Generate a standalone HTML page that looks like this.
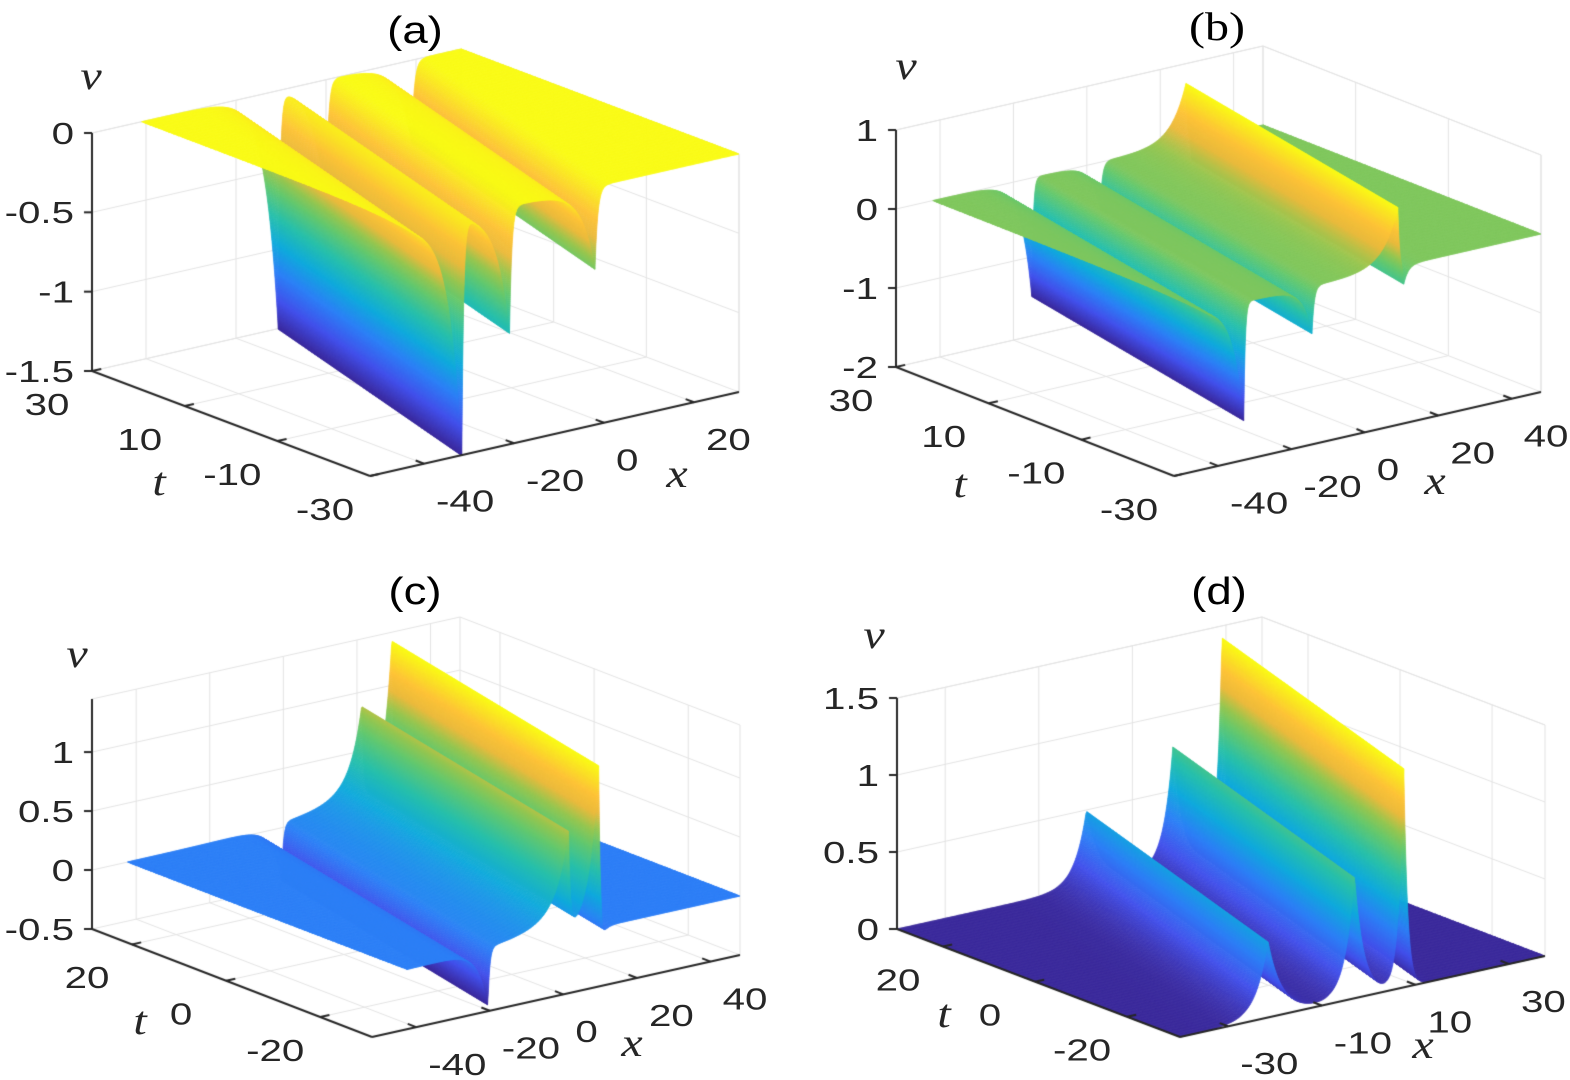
<!DOCTYPE html>
<html>
<head>
<meta charset="utf-8">
<style>
html,body{margin:0;padding:0;background:#fff;}
#root{position:relative;width:1570px;height:1080px;overflow:hidden;background:#fff;}
#cv{position:absolute;left:0;top:0;}
#ov{position:absolute;left:0;top:0;}
.tk{font-family:"Liberation Sans",Arial,sans-serif;font-size:31px;fill:#262626;}
.ttl{font-family:"Liberation Sans",Arial,sans-serif;font-size:38px;fill:#000;}
.ttls{font-family:"Liberation Serif","Times New Roman",serif;font-size:40px;fill:#000;}
.al{font-family:"Liberation Serif","Times New Roman",serif;font-style:italic;font-size:40px;fill:#262626;}
</style>
</head>
<body>
<div id="root">
<canvas id="cv" width="1570" height="1080"></canvas>
<svg id="ov" width="1570" height="1080">
  <g transform="translate(415,30) scale(1.2,1)"><text class="ttl" text-anchor="middle" dominant-baseline="central">(a)</text></g>
  <g transform="translate(1217,27) scale(1.2,1)"><text class="ttls" text-anchor="middle" dominant-baseline="central">(b)</text></g>
  <g transform="translate(415,591) scale(1.2,1)"><text class="ttl" text-anchor="middle" dominant-baseline="central">(c)</text></g>
  <g transform="translate(1219,591) scale(1.2,1)"><text class="ttl" text-anchor="middle" dominant-baseline="central">(d)</text></g>

  <g transform="translate(91,76) scale(1.2,1)"><text class="al" text-anchor="middle" dominant-baseline="central">v</text></g>
  <g transform="translate(159,482) scale(1.2,1)"><text class="al" text-anchor="middle" dominant-baseline="central">t</text></g>
  <g transform="translate(677,474) scale(1.2,1)"><text class="al" text-anchor="middle" dominant-baseline="central">x</text></g>

  <g transform="translate(906,66) scale(1.2,1)"><text class="al" text-anchor="middle" dominant-baseline="central">v</text></g>
  <g transform="translate(960,484) scale(1.2,1)"><text class="al" text-anchor="middle" dominant-baseline="central">t</text></g>
  <g transform="translate(1435,481) scale(1.2,1)"><text class="al" text-anchor="middle" dominant-baseline="central">x</text></g>

  <g transform="translate(77,654) scale(1.2,1)"><text class="al" text-anchor="middle" dominant-baseline="central">v</text></g>
  <g transform="translate(140,1021) scale(1.2,1)"><text class="al" text-anchor="middle" dominant-baseline="central">t</text></g>
  <g transform="translate(632,1043) scale(1.2,1)"><text class="al" text-anchor="middle" dominant-baseline="central">x</text></g>

  <g transform="translate(874,635) scale(1.2,1)"><text class="al" text-anchor="middle" dominant-baseline="central">v</text></g>
  <g transform="translate(944,1014) scale(1.2,1)"><text class="al" text-anchor="middle" dominant-baseline="central">t</text></g>
  <g transform="translate(1423,1045) scale(1.2,1)"><text class="al" text-anchor="middle" dominant-baseline="central">x</text></g>
  <g id="ticklabels"></g>
</svg>
</div>
<script>
// ---------- data: soliton parameters per panel (profile at t = 0) ----------
const aCenters = [-21.1, -10.5, 8.5];
const aAmps = [-1.48, -0.8, -0.52];
const aLeftW = [3, 3, 3];
const aRightW = [0.4, 0.5, 0.6];
const aSpeed = 0.35;

const bCenters = [-24, -5.4, 18, 19.6];
const bAmps = [-1.5, -0.6, 0.75, -0.25];
const bLeftW = [3, 2.5, 4, 0.3];
const bRightW = [0.4, 0.6, 0.4, 1.2];
const bSpeed = 0.3;

const cCenters = [-10.1, 11.8, 11.8, 20, 21];
const cAmps = [-0.5, 0.25, 0.6, 1.44, -0.1];
const cLeftW = [2.7, 12, 3, 2.5, 0.3];
const cRightW = [0.5, 0.5, 0.5, 0.4, 1];
const cSpeed = 0.336;

const dCenters = [-10.4, 8.1, 18.6];
const dAmps = [0.5, 0.8, 1.5];
const dLeftW = [2.5, 2, 1];
const dRightW = [3, 2, 0.8];
const dSpeed = 0.353;

// ---------- ticks ----------
const aXTicks = [-40, -20, 0, 20];
const aXTickLabels = ['-40', '-20', '0', '20'];
const aTTicks = [30, 10, -10, -30];
const aTTickLabels = ['30', '10', '-10', '-30'];
const aZTicks = [0, -0.5, -1, -1.5];
const aZTickLabels = ['0', '-0.5', '-1', '-1.5'];

const bXTicks = [-40, -20, 0, 20, 40];
const bXTickLabels = ['-40', '-20', '0', '20', '40'];
const bTTicks = [30, 10, -10, -30];
const bTTickLabels = ['30', '10', '-10', '-30'];
const bZTicks = [1, 0, -1, -2];
const bZTickLabels = ['1', '0', '-1', '-2'];

const cXTicks = [-40, -20, 0, 20, 40];
const cXTickLabels = ['-40', '-20', '0', '20', '40'];
const cTTicks = [20, 0, -20];
const cTTickLabels = ['20', '0', '-20'];
const cZTicks = [1, 0.5, 0, -0.5];
const cZTickLabels = ['1', '0.5', '0', '-0.5'];

const dXTicks = [-30, -10, 10, 30];
const dXTickLabels = ['-30', '-10', '10', '30'];
const dTTicks = [20, 0, -20];
const dTTickLabels = ['20', '0', '-20'];
const dZTicks = [1.5, 1, 0.5, 0];
const dZTickLabels = ['1.5', '1', '0.5', '0'];

// ---------- layout (pixel geometry of each 3-D box) ----------
const panels = [
 {key:'a', L:[92,371], F:[370,476], R:[739,392], zTopY:133, xmin:-52, xmax:30, tmin:-30, tmax:30, zmin:-1.5, zmax:0, sx0:-41, sx1:30,
  centers:aCenters, amps:aAmps, lw:aLeftW, rw:aRightW, speed:aSpeed,
  xT:aXTicks, xL:aXTickLabels, tT:aTTicks, tL:aTTickLabels, zT:aZTicks, zL:aZTickLabels},
 {key:'b', L:[896,367], F:[1174,476], R:[1541,392], zTopY:130, xmin:-52, xmax:48, tmin:-30, tmax:30, zmin:-2, zmax:1, sx0:-42, sx1:48,
  centers:bCenters, amps:bAmps, lw:bLeftW, rw:bRightW, speed:bSpeed,
  xT:bXTicks, xL:bXTickLabels, tT:bTTicks, tL:bTTickLabels, zT:bZTicks, zL:bZTickLabels},
 {key:'c', L:[92,929], F:[372,1037], R:[740,955], zTopY:699, xmin:-52, xmax:48, tmin:-31, tmax:28.5, zmin:-0.5, zmax:1.45, sx0:-42.4, sx1:48,
  centers:cCenters, amps:cAmps, lw:cLeftW, rw:cRightW, speed:cSpeed,
  xT:cXTicks, xL:cXTickLabels, tT:cTTicks, tL:cTTickLabels, zT:cZTicks, zL:cZTickLabels},
 {key:'d', L:[897,929], F:[1180,1037], R:[1545,956], zTopY:698, xmin:-40.3, xmax:37.7, tmin:-31.5, tmax:30, zmin:0, zmax:1.5, sx0:-40.3, sx1:37.7,
  centers:dCenters, amps:dAmps, lw:dLeftW, rw:dRightW, speed:dSpeed,
  xT:dXTicks, xL:dXTickLabels, tT:dTTicks, tL:dTTickLabels, zT:dZTicks, zL:dZTickLabels}
];

const parulaStops = [[0,58,40,155],[0.125,66,80,235],[0.25,44,128,246],[0.375,15,170,220],[0.5,40,192,170],[0.625,100,200,110],[0.7,150,198,80],[0.78,235,186,60],[0.86,253,195,55],[1,249,251,21]];
function parula(s){
  s = Math.max(0, Math.min(1, s));
  for (let i = 1; i < parulaStops.length; i++){
    const a = parulaStops[i-1], b = parulaStops[i];
    if (s <= b[0]){
      const f = (s - a[0]) / (b[0] - a[0]);
      return 'rgb(' + Math.round(a[1]+f*(b[1]-a[1])) + ',' + Math.round(a[2]+f*(b[2]-a[2])) + ',' + Math.round(a[3]+f*(b[3]-a[3])) + ')';
    }
  }
  return 'rgb(249,251,21)';
}

function makeProj(p){
  const ex = [(p.R[0]-p.F[0])/(p.xmax-p.xmin), (p.R[1]-p.F[1])/(p.xmax-p.xmin)];
  const et = [(p.F[0]-p.L[0])/(p.tmax-p.tmin), (p.F[1]-p.L[1])/(p.tmax-p.tmin)];
  const ez = (p.zTopY - p.L[1])/(p.zmax-p.zmin);
  const f = function(x,t,z){
    return [p.L[0] + (x-p.xmin)*ex[0] + (p.tmax-t)*et[0],
            p.L[1] + (x-p.xmin)*ex[1] + (p.tmax-t)*et[1] + (z-p.zmin)*ez];
  };
  f.ez = Math.abs(ez);
  return f;
}
function profile(u, wl, wr){ return u < 0 ? Math.exp(u/wl) : Math.exp(-u/wr); }
function surfVal(p, x, t){
  let v = 0;
  for (let i = 0; i < p.centers.length; i++){
    v += p.amps[i] * profile(x - p.speed*t - p.centers[i], p.lw[i], p.rw[i]);
  }
  return v;
}

const cv = document.getElementById('cv');
const ctx = cv.getContext('2d');
const svgNS = 'http://www.w3.org/2000/svg';
const tickG = document.getElementById('ticklabels');

function line(a, b, color, w){
  ctx.strokeStyle = color; ctx.lineWidth = w;
  ctx.beginPath(); ctx.moveTo(a[0], a[1]); ctx.lineTo(b[0], b[1]); ctx.stroke();
}
function addLabel(x, y, str, anchor, name){
  const g = document.createElementNS(svgNS, 'g');
  g.setAttribute('transform', 'translate(' + x.toFixed(1) + ',' + y.toFixed(1) + ') scale(1.3,1)');
  
  
  const tx = document.createElementNS(svgNS, 'text');
  tx.setAttribute('class', 'tk');
  tx.setAttribute('text-anchor', anchor);
  tx.setAttribute('dominant-baseline', 'central');
  tx.textContent = str;
  g.appendChild(tx);
  tickG.appendChild(g);
}

panels.forEach(function(p){
  const P = makeProj(p);
  const grid = '#e3e3e3';
  p.xT.forEach(function(xt){
    line(P(xt,p.tmin,p.zmin), P(xt,p.tmax,p.zmin), grid, 1);
    line(P(xt,p.tmax,p.zmin), P(xt,p.tmax,p.zmax), grid, 1);
  });
  p.tT.forEach(function(tt){
    line(P(p.xmin,tt,p.zmin), P(p.xmax,tt,p.zmin), grid, 1);
    line(P(p.xmax,tt,p.zmin), P(p.xmax,tt,p.zmax), grid, 1);
  });
  p.zT.forEach(function(zt){
    line(P(p.xmin,p.tmax,zt), P(p.xmax,p.tmax,zt), grid, 1);
    line(P(p.xmax,p.tmin,zt), P(p.xmax,p.tmax,zt), grid, 1);
  });
  line(P(p.xmax,p.tmax,p.zmin), P(p.xmax,p.tmax,p.zmax), grid, 1);
  line(P(p.xmax,p.tmin,p.zmin), P(p.xmax,p.tmin,p.zmax), grid, 1);
  line(P(p.xmin,p.tmax,p.zmax), P(p.xmax,p.tmax,p.zmax), grid, 1);
  line(P(p.xmax,p.tmin,p.zmax), P(p.xmax,p.tmax,p.zmax), grid, 1);

  // surface on a soliton-aligned (skewed) grid: x = u + speed*t
  const du = 0.2, dt = 1;
  const u0 = p.sx0 - p.speed*p.tmax, u1 = p.sx1 - p.speed*p.tmin;
  const nu = Math.round((u1 - u0)/du), nt = Math.round((p.tmax - p.tmin)/dt);
  const X = [], Z = [], T = [];
  let zlo = Infinity, zhi = -Infinity;
  for (let i = 0; i <= nt; i++){
    const t = p.tmin + (p.tmax-p.tmin)*i/nt;
    T.push(t);
    const xr = [], zr = [];
    for (let j = 0; j <= nu; j++){
      let x = u0 + (u1-u0)*j/nu + p.speed*t;
      x = Math.max(p.sx0, Math.min(p.sx1, x));
      const v = surfVal(p, x, t);
      xr.push(x); zr.push(v);
      if (v < zlo) zlo = v;
      if (v > zhi) zhi = v;
    }
    X.push(xr); Z.push(zr);
  }
  ctx.lineJoin = 'round';
  for (let i = nt-1; i >= 0; i--){
    for (let j = nu-1; j >= 0; j--){
      if (X[i][j+1] - X[i][j] <= 1e-9 && X[i+1][j+1] - X[i+1][j] <= 1e-9) continue;
      const za = Z[i][j], zb = Z[i][j+1], zc2 = Z[i+1][j+1], zd = Z[i+1][j];
      const range = Math.max(Math.abs(zb-za), Math.abs(zc2-zd));
      const n = Math.max(1, Math.min(40, Math.ceil(range * P.ez / 2)));
      for (let k = n-1; k >= 0; k--){
        const f0 = k/n, f1 = (k+1)/n;
        const xa0 = X[i][j] + (X[i][j+1]-X[i][j])*f0, xa1 = X[i][j] + (X[i][j+1]-X[i][j])*f1;
        const xb0 = X[i+1][j] + (X[i+1][j+1]-X[i+1][j])*f0, xb1 = X[i+1][j] + (X[i+1][j+1]-X[i+1][j])*f1;
        const z00 = za + (zb-za)*f0, z01 = za + (zb-za)*f1;
        const z10 = zd + (zc2-zd)*f0, z11 = zd + (zc2-zd)*f1;
        const zc = (z00+z01+z10+z11)/4;
        const col = parula((zc - zlo) / (zhi - zlo));
        const a = P(xa0, T[i], z00), b = P(xa1, T[i], z01), c = P(xb1, T[i+1], z11), d = P(xb0, T[i+1], z10);
        ctx.fillStyle = col; ctx.strokeStyle = col; ctx.lineWidth = 0.7;
        ctx.beginPath(); ctx.moveTo(a[0],a[1]); ctx.lineTo(b[0],b[1]); ctx.lineTo(c[0],c[1]); ctx.lineTo(d[0],d[1]); ctx.closePath();
        ctx.fill(); ctx.stroke();
      }
    }
  }

  const ax = '#262626';
  line(P(p.xmin,p.tmax,p.zmin), P(p.xmin,p.tmax,p.zmax), ax, 2);
  line(P(p.xmin,p.tmax,p.zmin), P(p.xmin,p.tmin,p.zmin), ax, 2);
  line(P(p.xmin,p.tmin,p.zmin), P(p.xmax,p.tmin,p.zmin), ax, 2);
  p.zT.forEach(function(zt, k){
    const q = P(p.xmin,p.tmax,zt);
    line([q[0]-8,q[1]], q, ax, 2);
    addLabel(q[0]-18, q[1], p.zL[k], 'end', 'z-tick-label-' + p.key);
  });
  p.tT.forEach(function(tt, k){
    const q = P(p.xmin,tt,p.zmin);
    const q2 = P(p.xmin + (p.xmax-p.xmin)*0.025, tt, p.zmin);
    line(q, q2, ax, 2);
    addLabel(q[0]-45, q[1]+33, p.tL[k], 'middle', 't-tick-label-' + p.key);
  });
  p.xT.forEach(function(xt, k){
    const q = P(xt,p.tmin,p.zmin);
    const q2 = P(xt, p.tmin + (p.tmax-p.tmin)*0.03, p.zmin);
    line(q, q2, ax, 2);
    addLabel(q[0]+12, q[1]+37, p.xL[k], 'start', 'x-tick-label-' + p.key);
  });
});
</script>
</body>
</html>
